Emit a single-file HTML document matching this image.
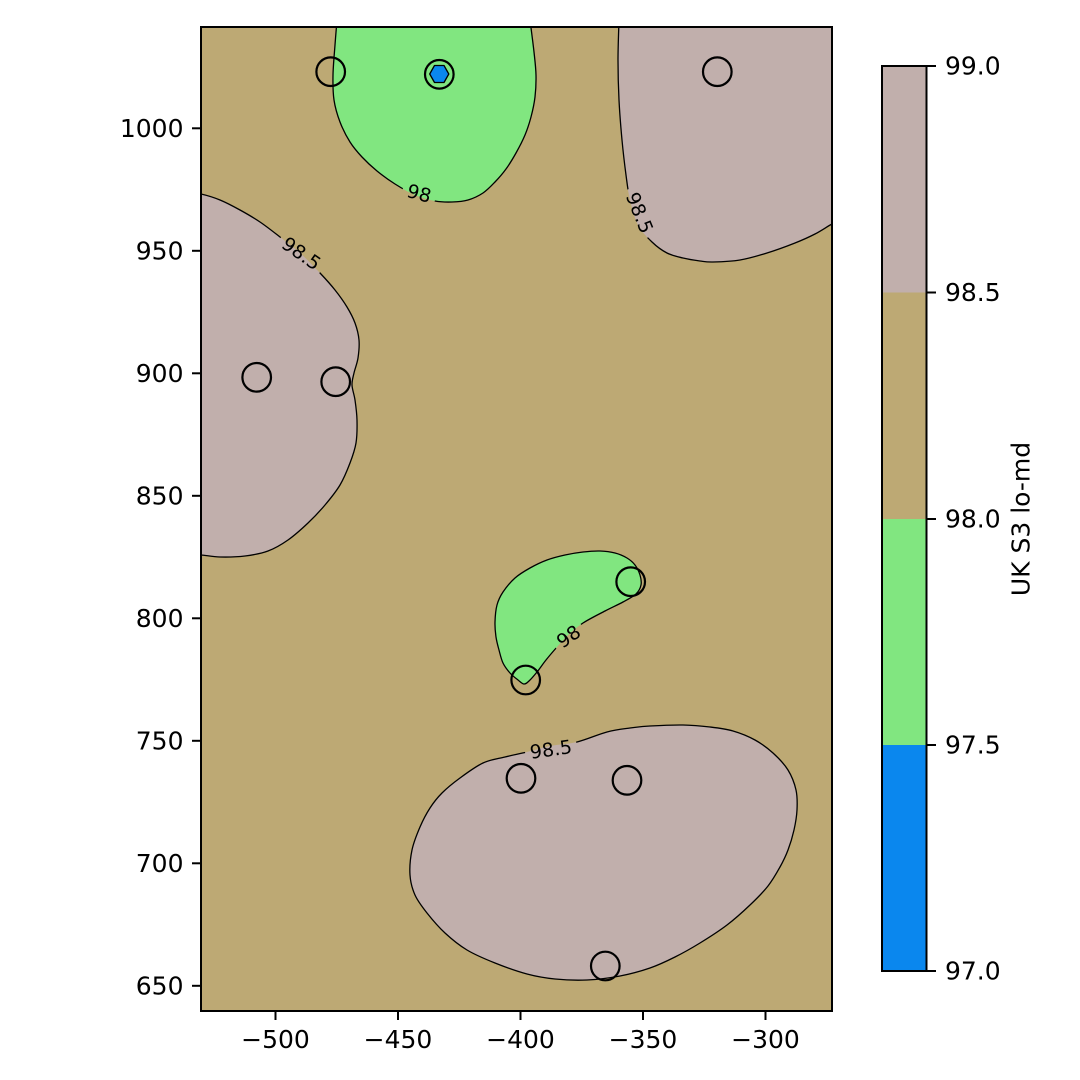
<!DOCTYPE html>
<html>
<head>
<meta charset="utf-8">
<style>
  html, body { margin: 0; padding: 0; background: #ffffff; }
  svg { display: block; }
  text { font-family: "DejaVu Sans", "Liberation Sans", sans-serif; fill: #000; }
</style>
</head>
<body>
<svg width="1080" height="1080" viewBox="0 0 1080 1080" xmlns="http://www.w3.org/2000/svg">
  <defs>
    <clipPath id="plotclip">
      <rect x="201" y="27" width="631" height="984"/>
    </clipPath>
    <mask id="labelmask" maskUnits="userSpaceOnUse" x="0" y="0" width="1080" height="1080">
      <rect x="0" y="0" width="1080" height="1080" fill="white"/>
      <rect x="-17" y="-9" width="34" height="18" fill="black" transform="translate(419,194) rotate(15)"/>
      <rect x="-26" y="-9" width="52" height="18" fill="black" transform="translate(301,254) rotate(35)"/>
      <rect x="-26" y="-9" width="52" height="18" fill="black" transform="translate(639,213) rotate(68)"/>
      <rect x="-17" y="-9" width="34" height="18" fill="black" transform="translate(569,637) rotate(-35)"/>
      <rect x="-26" y="-9" width="52" height="18" fill="black" transform="translate(551,750) rotate(-8)"/>
    </mask>
  </defs>

  <rect x="201" y="27" width="631" height="984" fill="#BDA974"/>

  <g clip-path="url(#plotclip)">
    <g stroke="none">
      <!-- top green: open contour, straight closure along top -->
      <path class="smoothfill" tail="Z" fill="#81E680" d="M 337,20 L 335,45 L 333,75 L 334,100 L 340,122 L 350,142 L 362,157 L 377,171 L 395,184 L 415,195 L 435,201 L 452,202 L 468,200 L 483,193 L 495,182 L 506,169 L 516,153 L 525,135 L 531,117 L 535,97 L 536,75 L 534,52 L 530,20 Z"/>
      <!-- top right pink -->
      <path class="smoothfill" tail="L 845,20 Z" fill="#C1AFAC" d="M 619,20 L 618,60 L 619,100 L 622,140 L 626,175 L 630,200 L 638,225 L 652,242 L 667,253 L 683,258 L 700,261 L 713,262 L 740,260 L 767,253 L 795,243 L 815,234 L 832,224 L 845,218 L 845,20 Z"/>
      <!-- left pink -->
      <path class="smoothfill" tail="Z" fill="#C1AFAC" d="M 190,193 L 201,194 L 220,200 L 240,210 L 260,222 L 280,237 L 300,253 L 320,273 L 335,290 L 347,307 L 355,323 L 359,340 L 358,358 L 354,373 L 352,385 L 355,400 L 357,420 L 356,443 L 350,463 L 340,485 L 325,505 L 308,523 L 288,540 L 268,551 L 245,556 L 220,557 L 201,555 L 190,555 Z"/>
      <!-- middle green -->
      <path class="smooth" fill="#81E680" d="M 495,622 L 497,605 L 503,592 L 515,578 L 530,568 L 547,560 L 565,555 L 583,552 L 600,551 L 615,553 L 627,558 L 635,565 L 640,575 L 641,585 L 636,594 L 623,602 L 605,611 L 583,623 L 568,635 L 557,647 L 546,660 L 537,672 L 529,681 L 524,684 L 518,680 L 510,673 L 503,663 L 499,650 L 496,637 Z"/>
      <!-- bottom pink -->
      <path class="smooth" fill="#C1AFAC" d="M 410,875 L 412,850 L 420,827 L 430,808 L 442,793 L 460,778 L 483,763 L 505,757 L 527,752 L 550,746 L 577,742 L 607,732 L 630,728 L 650,726 L 683,725 L 710,727 L 733,731 L 755,740 L 773,753 L 788,770 L 796,790 L 797,810 L 794,830 L 788,850 L 780,867 L 768,886 L 750,905 L 727,925 L 700,943 L 675,957 L 650,968 L 620,976 L 587,980 L 555,979 L 527,974 L 495,963 L 467,950 L 445,933 L 427,913 L 415,895 Z"/>
      <polygon fill="#0A87EE" points="429.7,74 434.5,65.5 444,65.5 448.8,74 444,82.5 434.5,82.5"/>
    </g>

    <g fill="none" stroke="#000" stroke-width="1.3" stroke-linejoin="round" mask="url(#labelmask)">
      <path class="smooth" d="M 337,20 L 335,45 L 333,75 L 334,100 L 340,122 L 350,142 L 362,157 L 377,171 L 395,184 L 415,195 L 435,201 L 452,202 L 468,200 L 483,193 L 495,182 L 506,169 L 516,153 L 525,135 L 531,117 L 535,97 L 536,75 L 534,52 L 530,20"/>
      <path class="smooth" d="M 619,20 L 618,60 L 619,100 L 622,140 L 626,175 L 630,200 L 638,225 L 652,242 L 667,253 L 683,258 L 700,261 L 713,262 L 740,260 L 767,253 L 795,243 L 815,234 L 832,224 L 845,218"/>
      <path class="smooth" d="M 190,193 L 201,194 L 220,200 L 240,210 L 260,222 L 280,237 L 300,253 L 320,273 L 335,290 L 347,307 L 355,323 L 359,340 L 358,358 L 354,373 L 352,385 L 355,400 L 357,420 L 356,443 L 350,463 L 340,485 L 325,505 L 308,523 L 288,540 L 268,551 L 245,556 L 220,557 L 201,555 L 190,555"/>
      <path class="smooth" d="M 495,622 L 497,605 L 503,592 L 515,578 L 530,568 L 547,560 L 565,555 L 583,552 L 600,551 L 615,553 L 627,558 L 635,565 L 640,575 L 641,585 L 636,594 L 623,602 L 605,611 L 583,623 L 568,635 L 557,647 L 546,660 L 537,672 L 529,681 L 524,684 L 518,680 L 510,673 L 503,663 L 499,650 L 496,637 Z"/>
      <path class="smooth" d="M 410,875 L 412,850 L 420,827 L 430,808 L 442,793 L 460,778 L 483,763 L 505,757 L 527,752 L 550,746 L 577,742 L 607,732 L 630,728 L 650,726 L 683,725 L 710,727 L 733,731 L 755,740 L 773,753 L 788,770 L 796,790 L 797,810 L 794,830 L 788,850 L 780,867 L 768,886 L 750,905 L 727,925 L 700,943 L 675,957 L 650,968 L 620,976 L 587,980 L 555,979 L 527,974 L 495,963 L 467,950 L 445,933 L 427,913 L 415,895 Z"/>
      <polygon points="429.7,74 434.5,65.5 444,65.5 448.8,74 444,82.5 434.5,82.5"/>
    </g>

    <g font-size="19" text-anchor="middle" dominant-baseline="central">
      <text transform="translate(419,194) rotate(15)">98</text>
      <text transform="translate(301,254) rotate(35)">98.5</text>
      <text transform="translate(639,213) rotate(68)">98.5</text>
      <text transform="translate(569,637) rotate(-35)">98</text>
      <text transform="translate(551,750) rotate(-8)">98.5</text>
    </g>

    <g fill="none" stroke="#000" stroke-width="2.2">
      <circle cx="330.7" cy="71.7" r="14.3"/>
      <circle cx="439.3" cy="74.3" r="14.3"/>
      <circle cx="717.3" cy="71.7" r="14.3"/>
      <circle cx="256.7" cy="377.3" r="14.3"/>
      <circle cx="335.7" cy="381.7" r="14.3"/>
      <circle cx="630.7" cy="581.7" r="14.3"/>
      <circle cx="525.7" cy="680" r="14.3"/>
      <circle cx="521" cy="778.3" r="14.3"/>
      <circle cx="627" cy="780.3" r="14.3"/>
      <circle cx="605.3" cy="966" r="14.3"/>
    </g>
  </g>

  <rect x="201" y="27" width="631" height="984" fill="none" stroke="#000" stroke-width="2"/>

  <g stroke="#000" stroke-width="2">
    <line x1="275.5" y1="1011" x2="275.5" y2="1020"/>
    <line x1="398" y1="1011" x2="398" y2="1020"/>
    <line x1="520.5" y1="1011" x2="520.5" y2="1020"/>
    <line x1="643" y1="1011" x2="643" y2="1020"/>
    <line x1="765.5" y1="1011" x2="765.5" y2="1020"/>
  </g>
  <g font-size="25" text-anchor="middle">
    <text x="275.5" y="1048">−500</text>
    <text x="398" y="1048">−450</text>
    <text x="520.5" y="1048">−400</text>
    <text x="643" y="1048">−350</text>
    <text x="765.5" y="1048">−300</text>
  </g>

  <g stroke="#000" stroke-width="2">
    <line x1="192" y1="128.3" x2="201" y2="128.3"/>
    <line x1="192" y1="250.8" x2="201" y2="250.8"/>
    <line x1="192" y1="373.3" x2="201" y2="373.3"/>
    <line x1="192" y1="495.8" x2="201" y2="495.8"/>
    <line x1="192" y1="618.3" x2="201" y2="618.3"/>
    <line x1="192" y1="740.8" x2="201" y2="740.8"/>
    <line x1="192" y1="863.3" x2="201" y2="863.3"/>
    <line x1="192" y1="985.8" x2="201" y2="985.8"/>
  </g>
  <g font-size="25" text-anchor="end" dominant-baseline="central">
    <text x="183.5" y="128.3">1000</text>
    <text x="183.5" y="250.8">950</text>
    <text x="183.5" y="373.3">900</text>
    <text x="183.5" y="495.8">850</text>
    <text x="183.5" y="618.3">800</text>
    <text x="183.5" y="740.8">750</text>
    <text x="183.5" y="863.3">700</text>
    <text x="183.5" y="985.8">650</text>
  </g>

  <rect x="882" y="66" width="44.5" height="226.5" fill="#C1AFAC"/>
  <rect x="882" y="292.5" width="44.5" height="226.5" fill="#BDA974"/>
  <rect x="882" y="519" width="44.5" height="226" fill="#81E680"/>
  <rect x="882" y="745" width="44.5" height="226" fill="#0A87EE"/>
  <rect x="882" y="66" width="44.5" height="905" fill="none" stroke="#000" stroke-width="2"/>
  <g stroke="#000" stroke-width="2">
    <line x1="926.5" y1="66" x2="936" y2="66"/>
    <line x1="926.5" y1="292.5" x2="936" y2="292.5"/>
    <line x1="926.5" y1="519" x2="936" y2="519"/>
    <line x1="926.5" y1="745" x2="936" y2="745"/>
    <line x1="926.5" y1="971" x2="936" y2="971"/>
  </g>
  <g font-size="25" text-anchor="start" dominant-baseline="central">
    <text x="945" y="66">99.0</text>
    <text x="945" y="292.5">98.5</text>
    <text x="945" y="519">98.0</text>
    <text x="945" y="745">97.5</text>
    <text x="945" y="971">97.0</text>
  </g>
  <text font-size="25" text-anchor="middle" dominant-baseline="central" transform="translate(1021,519) rotate(-90)">UK S3 lo-md</text>
</svg>
<script>
(function(){
  function parsePts(d) {
    var nums = d.replace(/[MLZ]/gi, ' ').trim().split(/[\s,]+/).map(Number);
    var pts = [];
    for (var i = 0; i + 1 < nums.length; i += 2) pts.push([nums[i], nums[i+1]]);
    return pts;
  }
  function build(pts, closed) {
    var n = pts.length;
    function g(i) {
      if (closed) return pts[(i % n + n) % n];
      return pts[Math.max(0, Math.min(n - 1, i))];
    }
    var out = 'M ' + pts[0][0] + ',' + pts[0][1];
    var segs = closed ? n : n - 1;
    for (var i = 0; i < segs; i++) {
      var p0 = g(i - 1), p1 = g(i), p2 = g(i + 1), p3 = g(i + 2);
      var c1x = p1[0] + (p2[0] - p0[0]) / 6, c1y = p1[1] + (p2[1] - p0[1]) / 6;
      var c2x = p2[0] - (p3[0] - p1[0]) / 6, c2y = p2[1] - (p3[1] - p1[1]) / 6;
      out += ' C ' + c1x.toFixed(2) + ',' + c1y.toFixed(2) + ' ' + c2x.toFixed(2) + ',' + c2y.toFixed(2) + ' ' + p2[0] + ',' + p2[1];
    }
    if (closed) out += ' Z';
    return out;
  }
  try {
    var paths = document.querySelectorAll('path.smooth');
    for (var k = 0; k < paths.length; k++) {
      var p = paths[k];
      var d = p.getAttribute('d');
      var closed = /Z\s*$/i.test(d.trim());
      var pts = parsePts(d);
      if (pts.length < 3) continue;
      p.setAttribute('d', build(pts, closed));
    }
    var fills = document.querySelectorAll('path.smoothfill');
    for (var k = 0; k < fills.length; k++) {
      var p = fills[k];
      var pts = parsePts(p.getAttribute('d'));
      var tail = p.getAttribute('tail') || 'Z';
      if (tail !== 'Z') {
        // drop trailing corner point(s) already specified in tail
        pts = pts.slice(0, pts.length - 1);
      }
      if (pts.length < 3) continue;
      p.setAttribute('d', build(pts, false) + ' ' + tail);
    }
  } catch (e) {}
})();
</script>
</body>
</html>
